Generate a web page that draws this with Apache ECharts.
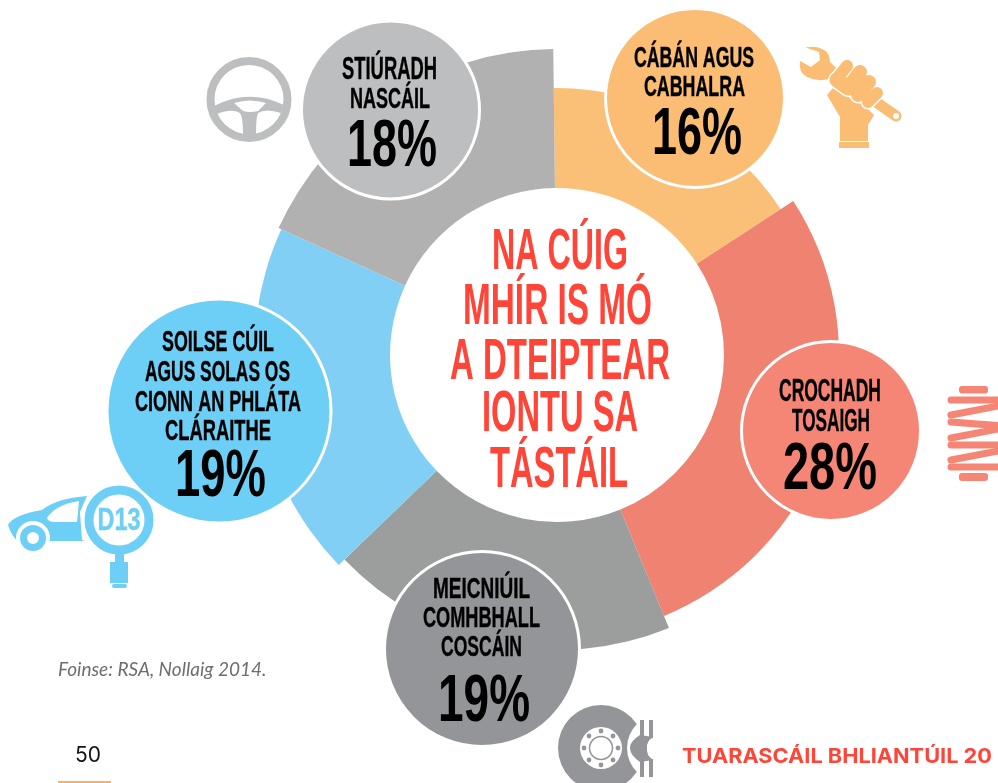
<!DOCTYPE html>
<html><head><meta charset="utf-8">
<style>html,body{margin:0;padding:0;background:#fff;overflow:hidden}#c{width:998px;height:783px}</style>
<script src="https://cdn.jsdelivr.net/npm/echarts@6/dist/echarts.min.js"></script>
</head><body><div id="c"></div>
<script>
// ---- data ----
const categories = ['CÁBÁN AGUS CABHALRA','CROCHADH TOSAIGH','MEICNIÚIL COMHBHALL COSCÁIN','SOILSE CÚIL AGUS SOLAS OS CIONN AN PHLÁTA CLÁRAITHE','STIÚRADH NASCÁIL'];
const shares = [16, 28, 19, 19, 18];
const pctLabels = ['16%','28%','19%','19%','18%'];
const centreTitle = ['NA CÚIG','MHÍR IS MÓ','A DTEIPTEAR','IONTU SA','TÁSTÁIL'];

// ---- style ----
const sliceColors = ['#FBC077','#F08272','#9C9D9D','#82CFF6','#B1B1B1'];
const bubbleColors = ['#FBBC74','#F58675','#939598','#6DCFF6','#BCBEC0'];
const outerR = [267, 282, 295, 303, 306];
const CX = 557, CY = 355, INNER = 167;
const FONT = '"Liberation Sans Narrow","Liberation Sans",sans-serif';

const cv = document.createElement('canvas').getContext('2d');
function fit(str, cx, cy, capH, w, fill){
  const fs = capH/0.72;
  const font = 'bold '+fs+'px '+FONT;
  cv.font = font;
  const sx = w/cv.measureText(str).width;
  return {type:'text', z:20, x:cx, y:cy+capH*0.09, scaleX:sx, silent:true,
    style:{text:str, font:font, fill:fill, stroke:fill, lineWidth:capH<30?0.4:0, align:'center', verticalAlign:'middle'}};
}
const circ=(cx,cy,r,fill,extra)=>({type:'circle',z:(extra&&extra.z)||15,silent:true,shape:{cx,cy,r},style:Object.assign({fill},extra&&extra.style)});
let pathId=0;
const path=(d,fill,z)=>{const name='iconPath'+(pathId++);echarts.graphic.registerShape(name,echarts.graphic.extendPath(d,{}));return {type:name,z:z||15,silent:true,style:{fill}};};
const line=(x1,y1,x2,y2,w,col,z)=>({type:'line',z:z||15,silent:true,shape:{x1,y1,x2,y2},style:{stroke:col,lineWidth:w,lineCap:'round'}});
const rect=(x,y,w,h,fill,r,z)=>({type:'rect',z:z||15,silent:true,shape:{x,y,width:w,height:h,r:r||0},style:{fill}});

// one pie per slice so every slice can carry its own outer radius
const series = shares.map((_,i)=>({
  type:'pie', silent:true, animation:false, center:[CX,CY], radius:[INNER,outerR[i]],
  startAngle:90.7, clockwise:true, label:{show:false}, labelLine:{show:false},
  data:shares.map((v,j)=>({value:v,name:categories[j],
    itemStyle:{color:j===i?sliceColors[i]:'rgba(0,0,0,0)'}}))
}));

const bubbles = [[695,98,89.5],[831,431,89.5],[482,649,97.5],[219,411,112],[390.5,110,89]];
const bubbleEls = bubbles.map((b,i)=>circ(b[0],b[1],b[2],bubbleColors[i],{style:{stroke:'#fff',lineWidth:3}}));

const K='#000';
const texts = [
 fit('CÁBÁN AGUS',694,57,21,120,K), fit('CABHALRA',694.5,86,21,101,K), fit(pctLabels[0],697,131,48,90,K),
 fit('CROCHADH',830,391,22,102,K), fit('TOSAIGH',831,421,22,78,K), fit(pctLabels[1],830,466,48,94,K),
 fit('MEICNIÚIL',481.5,588,21,97,K), fit('COMHBHALL',481.5,617,21,117,K), fit('COSCÁIN',481.5,646,21,81,K), fit(pctLabels[2],484,698,48,92,K),
 fit('SOILSE CÚIL',218,341,21,112,K), fit('AGUS SOLAS OS',217.5,371,21,145,K), fit('CIONN AN PHLÁTA',218,401,21,166,K), fit('CLÁRAITHE',218,430,21,106,K), fit(pctLabels[3],220.5,473,48,91,K),
 fit('STIÚRADH',389.5,69,22,95,K), fit('NASCÁIL',390,98,21,80,K), fit(pctLabels[4],392,143,48,90,K)
];
const ys=[250,305,360,412,468], ws=[136,189,220,156,138], xs=[560,557.5,560,560,559];
centreTitle.forEach((s,i)=>texts.push(fit(s,xs[i],ys[i],41,ws[i],'#FF4438')));

// icons
const G='#BCBEC0', O='#FBBC74', R='#F58675', B='#6DCFF6', D='#939598';
const icons = [
 // wheel
 {type:'circle',z:15,silent:true,shape:{cx:249,cy:99.5,r:38.5},style:{fill:'none',stroke:G,lineWidth:8}},
 path('M214,106 Q249,88 284,105 L281,113 Q266,108 258,113 Q256,117 256,134 L243,134 Q243,117 240,113 Q232,108 217,114 Z',G),
 path('M234,103 Q250,98 266,103 L258,111 Q250,113 243,111 Z','#fff',16),
 // wrench + hand
 path('M810,47 Q804,47 807,48 L819,52 L820,60 L811,67 L800,61 Q798,72 807,77 Q818,82 829,79 L838,70 L830,62 Q830,52 822,49 Q816,46 810,47 Z',O),
 line(830,70,896,116,11,O),
 {type:'circle',z:17,silent:true,shape:{cx:896,cy:116,r:3},style:{fill:'#fff'}},
 path('M827,95 L840,117 L840,141 L868,141 L868,125 L874,115 L866,107 L833,88 Z',O),
 rect(839,142,30,6,O),
 line(847,66,839,76,15,'#fff',16), line(847,66,839,76,12,O,17),
 line(860,72,851,84,17,'#fff',16), line(860,72,851,84,14,O,17),
 line(869,82,858,95,17,'#fff',16), line(869,82,858,95,14,O,17),
 line(877,93,868,102,15,'#fff',16), line(877,93,868,102,12,O,17),
 line(837,80,848,88,18,'#fff',16), line(837,80,848,88,15,O,17),
 // spring
 rect(959,386,29,7.5,R,3), rect(959,473,29,8,R,3),
 line(951,400,1003,400,7,R), line(951,415,1003,405,7,R), line(951,422,1003,426,7,R),
 line(951,438,1003,428,7,R), line(951,445,1003,445,7,R), line(951,460,1003,450,7,R), line(951,467,1003,467,7,R),
 // car
 path('M8,525 Q13,515 42,510 Q57,498 87,496 L80,512 L82,540 L85,541 L18,541 Q12,537 8,525 Z',B),
 path('M47,518 Q55,505 79,501 L77,522 L55,522 Q48,522 47,518 Z','#fff',16),
 circ(33,538,17,'#fff',{z:16}), circ(33,538,13,B,{z:17}), circ(33,538,6,'#fff',{z:18}),
 // magnifier
 {type:'circle',z:19,silent:true,shape:{cx:119,cy:520,r:30},style:{fill:'#fff',stroke:B,lineWidth:9}},
 rect(115,553,9,9,B), rect(110,562,18,21,B), rect(112,584,15,4,B,2),
 fit('D13',119,520,22,43,B),
 // brake
 circ(601,748,43,D),
 circ(661,748,34,'#fff',{z:16}),
 path('M640,735 L653,737 Q646,742 647,748 Q646,755 653,760 L640,762 Q630,755 630,748 Q630,741 640,735 Z',D,17),
 rect(640,720,4,18,D,0,17), rect(649,720,4,18,D,0,17), rect(640,759,4,18,D,0,17), rect(649,759,4,18,D,0,17),
 circ(601,748,21,'#fff',{z:17}),
 {type:'circle',z:18,silent:true,shape:{cx:601,cy:748,r:11.5},style:{fill:'#fff',stroke:D,lineWidth:1.5}}
];
for(let a=0;a<8;a++){const t=a*Math.PI/4;icons.push(circ(601+17*Math.cos(t),748+17*Math.sin(t),2.4,D,{z:18}));}

// footer
const footer = [
 {type:'text',z:20,silent:true,x:58,y:670,style:{text:'Foinse: RSA, Nollaig 2014.',font:'italic 400 19px Lato,"Open Sans",sans-serif',fill:'#6d6e71',verticalAlign:'middle',align:'left'}},
 {type:'text',z:20,silent:true,x:75,y:756,style:{text:'50',font:'400 21px Inter,"Open Sans",sans-serif',fill:'#111',verticalAlign:'middle',align:'left'}},
 rect(58,781,53,2,'#FBB063'),
 {type:'text',z:20,silent:true,x:682,y:757,scaleX:1.06,style:{text:'TUARASCÁIL BHLIANTÚIL 20',font:'bold 20.5px Inter,"Open Sans",sans-serif',fill:'#FF4438',verticalAlign:'middle',align:'left'}}
];

const chart = echarts.init(document.getElementById('c'),null,{renderer:'canvas'});
chart.setOption({animation:false,backgroundColor:'#fff',series:series,
  graphic:{elements:[...bubbleEls,...texts,...icons,...footer]}});
</script></body></html>
